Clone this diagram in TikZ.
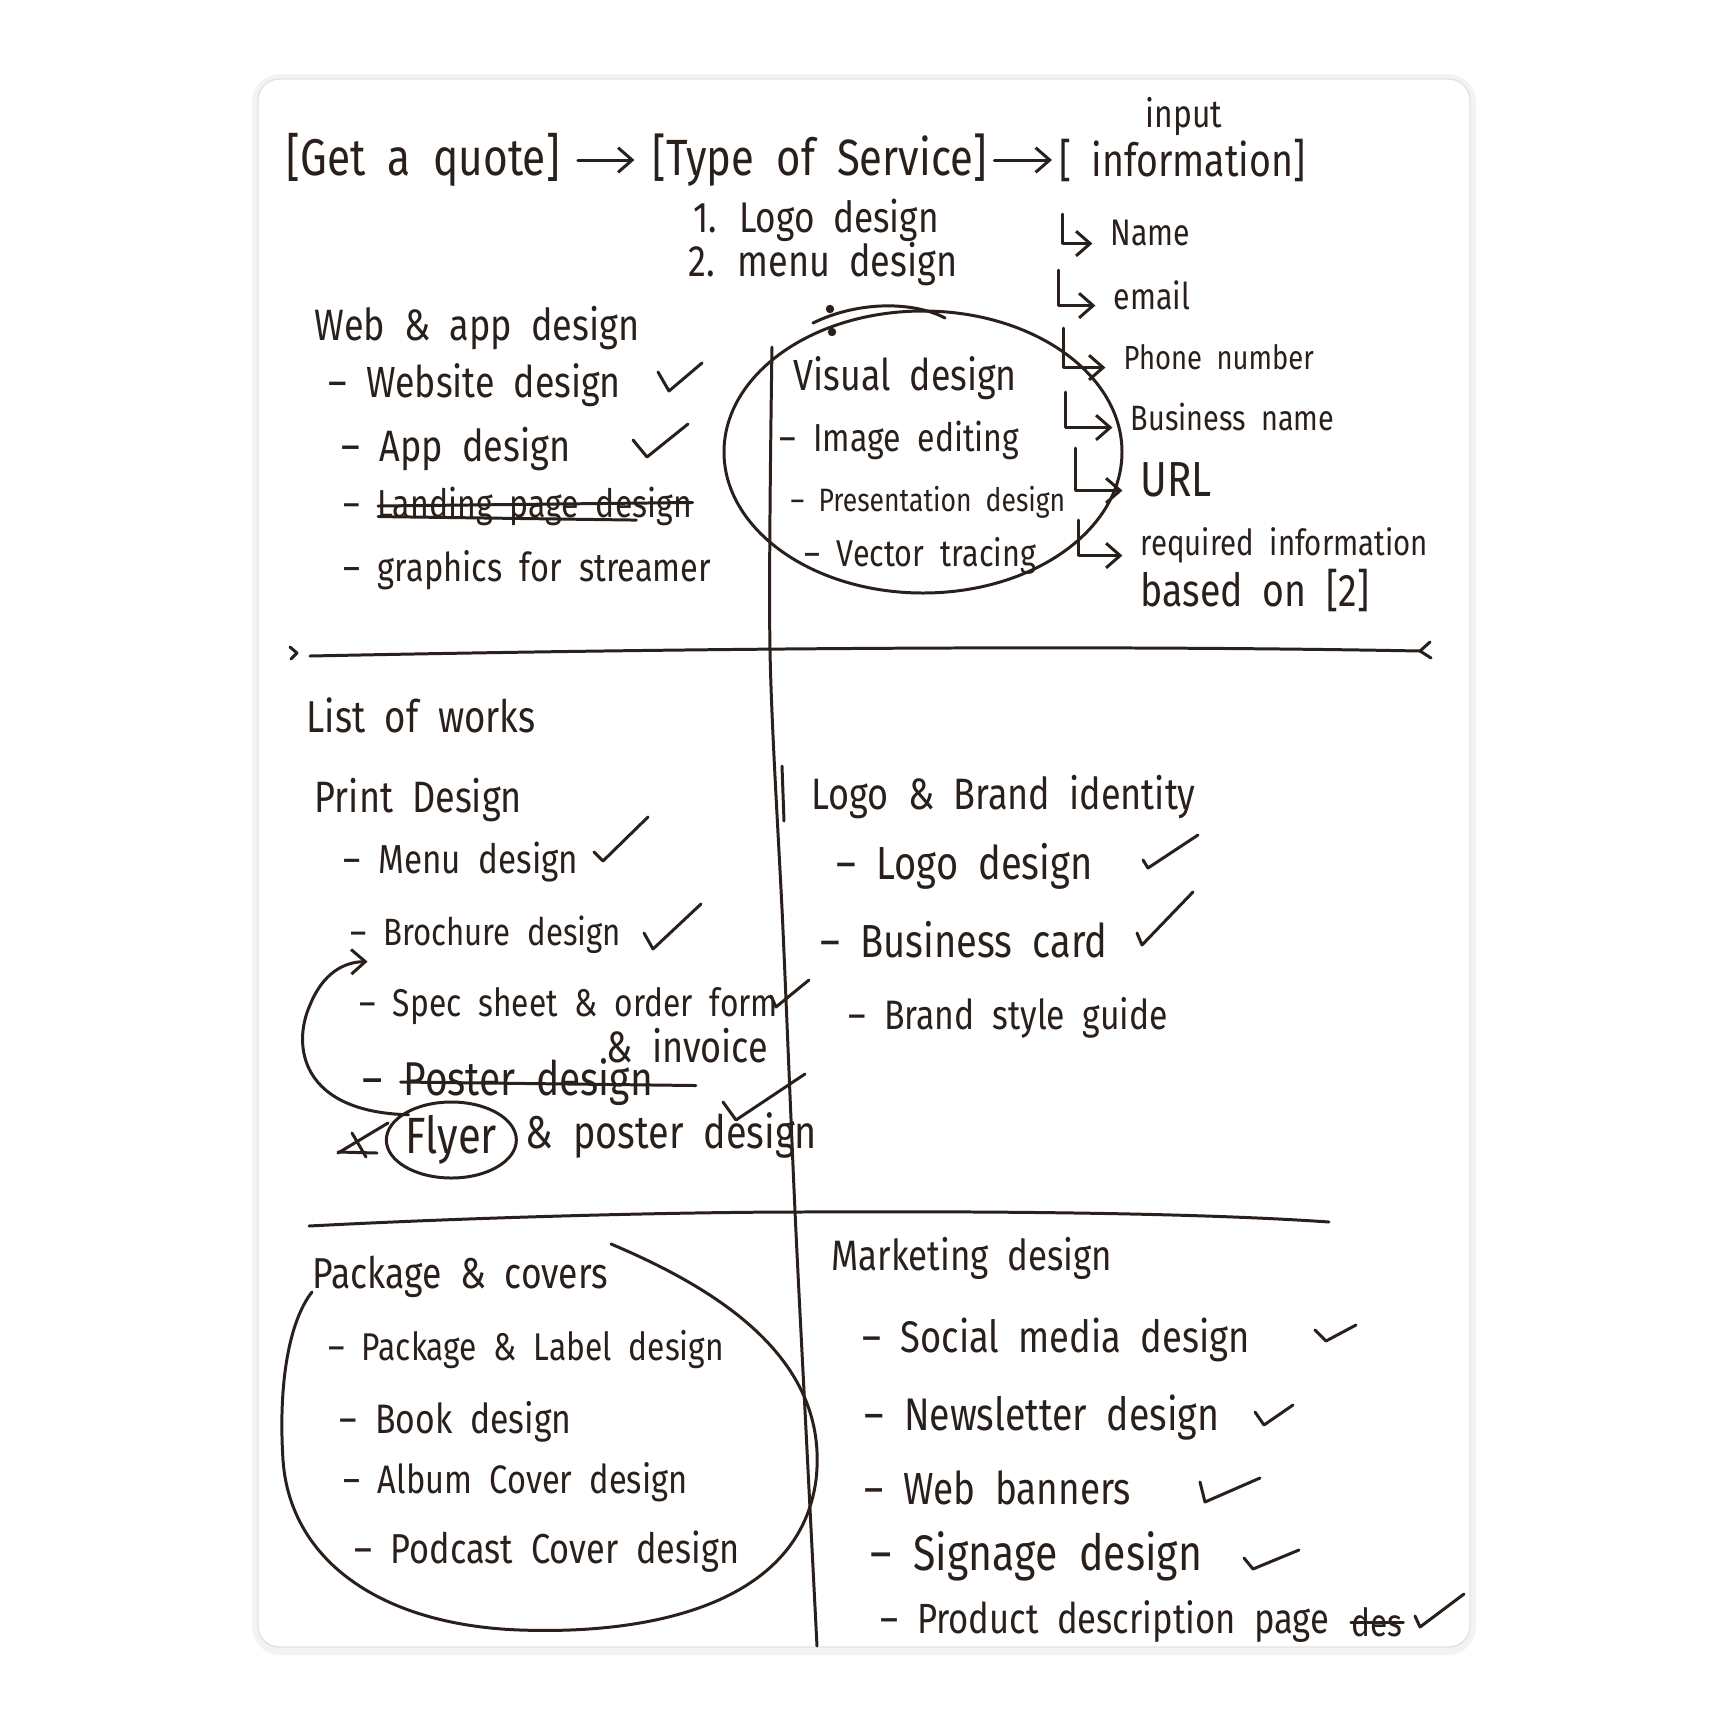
\documentclass[tikz,border=0pt]{standalone}
\usepackage{fontspec}
\setmainfont{Fira Sans}
\newfontfamily\handfont[FakeStretch=0.82, WordSpace=2]{Fira Sans}
\usetikzlibrary{arrows.meta,calc,positioning}

\definecolor{ink}{HTML}{2A201B}
\definecolor{cardline}{HTML}{E2E2E2}
\definecolor{cardshade}{HTML}{F3F3F3}

\tikzset{
  pen/.style={draw=ink, line width=0.85pt, line cap=round, line join=round},
  barb/.style={pen, -{Straight Barb[length=4pt,width=7pt]}},
  hand/.style={text=ink, anchor=west, inner sep=0pt, font=\handfont\fontsize{#1}{#1}\selectfont},
  hand/.default=11.5,
  head/.style={hand=12.5},
}

\begin{document}
\begin{tikzpicture}[x=0.01cm, y=-0.01cm]
    \useasboundingbox (0,0) rectangle (1726,1726);
    \fill[white] (0,0) rectangle (1726,1726);

    % Card
    \fill[cardshade, rounded corners=8pt] (252,74) rectangle (1476,1655);
    \filldraw[fill=white, draw=cardline, rounded corners=6pt] (258,79) rectangle (1470,1647);

    % Flow at the top
    \node[hand=14.7] (quote) at (286,160) {[Get a quote]};
    \node[hand=14.5] (service) at (652,160) {[Type of Service]};
    \node[hand=13] (info) at (1059,160) {[ information]};
    \node[hand=11] (input) at (1145,117) {input};
    \draw[barb, shorten <=5pt, shorten >=5pt] (quote) -- (service);
    \draw[barb, shorten <=2pt, shorten >=2pt] (service) -- (info);

    % Service options
    \node[hand=12.2] (logoopt) at (693,220) {1. Logo design};
    \node[hand=12.5] (menuopt) at (688,264) {2. menu design};

    % Input fields
    \foreach \nm/\fs/\lx/\ly/\tx/\ty/\txt in {name/10.5/1062/214/1110/233/Name, email/10.5/1058/270/1113/295/email, phone/9.5/1063/328/1123/357/Phone number, business/10/1065/392/1130/417/Business name, url/14/1075/448/1140/480/URL, required/10.2/1078/520/1140/545/required information}{
        \node[hand=\fs] (\nm) at (\tx,\ty) {\txt};
        \draw[barb] (\lx,\ly) |- ([xshift=-5pt,yshift=-3pt]\nm.west);
    }
    \node[hand=13] (based) at (1140,590) {based on [2]};

    % Web and app
    \node[head] (web) at (314,328) {Web \& app design};
    \node[hand=12.4] (website) at (328,385) {– Website design};
    \node[hand=12.5] (app) at (341,449) {– App design};
    \node[hand=11.1] (landing) at (343,506) {– Landing page design};
    \node[hand=11.3] (streamer) at (343,570) {– graphics for streamer};
    \draw[pen] ([xshift=10pt]landing.west) -- ([yshift=1pt]landing.east);
    \draw[pen] ([xshift=10pt,yshift=-3pt]landing.west) -- ([xshift=-16pt,yshift=-4pt]landing.east);

    % Visual design, circled
    \node[hand=12.4] (visual) at (793,378) {Visual design};
    \node[hand=11.1] (imgedit) at (779,440) {– Image editing};
    \node[hand=9.2] (present) at (790,502) {– Presentation design};
    \node[hand=10.6] (vector) at (804,556) {– Vector tracing};
    \draw[pen] (923,452) ellipse [x radius=199, y radius=141];
    \draw[pen] (813,323) .. controls (860,300) and (915,302) .. (945,318);
    \fill[ink] (830,309) circle [radius=1.2pt];
    \fill[ink] (832,332) circle [radius=1.2pt];

    % Dividers
    \draw[pen] plot[smooth] coordinates {(772,347) (770,650) (783,930) (795,1211) (806,1430) (817,1646)};
    \draw[pen] (782,766) -- (784,821);
    \draw[pen] (310,656) .. controls (700,648) and (1100,645) .. (1420,651);
    \draw[pen] (290,647) -- (297,653) -- (291,659);
    \draw[pen] (1430,642) -- (1420,651) -- (1431,658);
    \draw[pen] (309,1226) .. controls (500,1216) and (700,1212) .. (800,1212) .. controls (1000,1211) and (1200,1213) .. (1329,1222);

    % Print design
    \node[hand=12.7] (works) at (306,715) {List of works};
    \node[head] (print) at (314,800) {Print Design};
    \node[hand=11.5] (menu) at (343,862) {– Menu design};
    \node[hand=10.8] (brochure) at (350,935) {– Brochure design};
    \node[hand=11] (spec) at (359,1006) {– Spec sheet \& order form};
    \node[hand=12.5] (invoice) at (606,1046) {\& invoice};
    \node[hand=13.5] (poster) at (362,1082) {– Poster design};
    \draw[pen] ([xshift=11pt]poster.west) -- ([xshift=12pt,yshift=-1pt]poster.east);
    \node[hand=14.5] (flyer) at (405,1140) {Flyer};
    \node[hand=13.1] (flyerposter) at (525,1135) {\& poster design};
    \draw[pen] (flyer.center) ellipse [x radius=65, y radius=38];
    \draw[barb] ([xshift=1pt]flyer.north west) .. controls (300,1112) and (292,1045) .. (310,1005) .. controls (320,980) and (338,962) .. ([xshift=5pt,yshift=-2pt]brochure.south west);
    \draw[pen] (338,1153) -- (388,1123);
    \draw[pen] (338,1152) -- (377,1153);
    \draw[pen] (352,1133) -- (366,1157);

    % Logo and brand
    \node[hand=12.5] (brand) at (811,797) {Logo \& Brand identity};
    \node[hand=13.2] (logo) at (836,866) {– Logo design};
    \node[hand=13.2] (card) at (820,940) {– Business card};
    \node[hand=11.7] (guide) at (848,1018) {– Brand style guide};

    % Package and covers, circled
    \node[hand=12.3] (package) at (312,1277) {Package \& covers};
    \node[hand=11] (label) at (328,1350) {– Package \& Label design};
    \node[hand=11.7] (book) at (339,1422) {– Book design};
    \node[hand=11.3] (album) at (343,1482) {– Album Cover design};
    \node[hand=11.9] (podcast) at (354,1552) {– Podcast Cover design};
    \draw[pen] (611,1244) .. controls (720,1290) and (830,1360) .. (816,1480) .. controls (800,1600) and (660,1635) .. (520,1630) .. controls (380,1625) and (290,1560) .. (283,1460) .. controls (278,1380) and (290,1320) .. (312,1292);

    % Marketing
    \node[hand=12.1] (marketing) at (831,1258) {Marketing design};
    \node[hand=12.6] (social) at (862,1340) {– Social media design};
    \node[hand=13] (newsletter) at (864,1418) {– Newsletter design};
    \node[hand=12.8] (banners) at (864,1488) {– Web banners};
    \node[hand=14.2] (signage) at (870,1556) {– Signage design};
    \node[hand=12] (product) at (880,1622) {– Product description page};
    \node[hand=11, right=6pt of product] (des) {des};
    \draw[pen] (des.west) -- (des.east);

    % Ticks
    \foreach \ax/\ay/\bx/\by/\cx/\cy in {658/372/669/391/702/363, 633/440/647/457/688/424, 594/852/603/861/648/817, 644/933/653/949/701/904, 771/996/776/1007/809/980, 723/1102/736/1120/805/1074, 1143/860/1148/868/1198/835, 1137/933/1142/945/1193/892, 1315/1330/1326/1341/1356/1325, 1255/1412/1264/1425/1293/1405, 1200/1482/1205/1502/1260/1478, 1244/1558/1253/1569/1299/1550, 1415/1616/1420/1627/1464/1594}
        \draw[pen] (\ax,\ay) -- (\bx,\by) -- (\cx,\cy);
\end{tikzpicture}
\end{document}
